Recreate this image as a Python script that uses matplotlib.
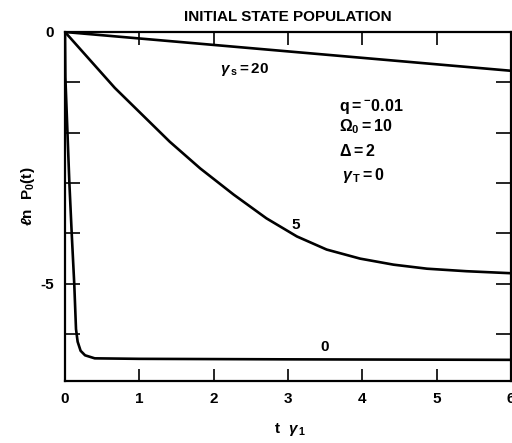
import matplotlib
matplotlib.use("Agg")
import matplotlib.pyplot as plt

plt.rcParams['font.family'] = ['Liberation Sans', 'DejaVu Sans']
plt.rcParams['mathtext.fontset'] = 'custom'
plt.rcParams['mathtext.rm'] = 'Liberation Sans:bold'
plt.rcParams['mathtext.it'] = 'Liberation Sans:italic:bold'
plt.rcParams['mathtext.bf'] = 'Liberation Sans:bold'

# gamma_s = 20
t20 = [0, 6]
y20 = [0, -0.77]

# gamma_s = 5
t5 = [0, 0.67, 1.41, 1.82, 2.27, 2.71, 3.12, 3.52, 3.97, 4.42, 4.87, 5.4, 6.0]
y5 = [0, -1.11, -2.18, -2.71, -3.23, -3.70, -4.06, -4.32, -4.50, -4.62, -4.70, -4.75, -4.79]

# gamma_s = 0
t0 = [0, 0.005, 0.058, 0.09, 0.125, 0.148, 0.17, 0.21, 0.27, 0.40, 1.0, 3.0, 6.0]
y0 = [0, -0.9, -2.97, -3.99, -5.02, -5.90, -6.15, -6.33, -6.42, -6.48, -6.49, -6.50, -6.51]

xticks = [0, 1, 2, 3, 4, 5, 6]
yticks = [0, -1, -2, -3, -4, -5, -6]
ytick_labels = ['0', '', '', '', '', '-5', '']

fig = plt.figure(figsize=(5.12, 4.43), dpi=100)
ax = fig.add_axes([65/512, 62/443, 446/512, 349/443])

lw = 1.9
ax.plot(t20, y20, color='black', lw=lw, solid_capstyle='butt')
ax.plot(t5, y5, color='black', lw=lw, solid_joinstyle='round')
ax.plot(t0, y0, color='black', lw=lw, solid_joinstyle='round')

ax.set_xlim(0, 6)
ax.set_ylim(-6.93, 0)
ax.set_xticks(xticks)
ax.set_xticklabels([str(v) for v in xticks], fontsize=11, fontweight='bold')
ax.set_yticks(yticks)
ax.set_yticklabels(ytick_labels, fontsize=11, fontweight='bold')
ax.tick_params(direction='in', length=9, width=1.2, top=True, right=True, pad=8)
ax.tick_params(axis='y', length=11)
for s in ax.spines.values():
    s.set_linewidth(1.6)

ax.set_title('INITIAL STATE POPULATION', fontsize=11, fontweight='bold', pad=8)
xl = ax.set_xlabel(r'$\mathrm{t}\ \ \gamma_{\,1}$', fontsize=11)
xl.set_va('center')
ax.xaxis.set_label_coords((290 - 65) / 446, -(429 - 381) / 349)
yl = ax.set_ylabel(r'$\ell\mathrm{n}\ \ \mathrm{P}_0\mathrm{(t)}$', fontsize=11)
yl.set_va('center')
ax.yaxis.set_label_coords(-(65 - 28) / 446, (381 - 196) / 349)

ax.text(2.42, -0.75, r'$\gamma_{\,\mathrm{s}}=\mathrm{20}$', fontsize=11, ha='center', va='center')
ax.text(3.11, -3.83, '5', fontsize=11, fontweight='bold', ha='center', va='center')
ax.text(3.49, -6.25, '0', fontsize=11, fontweight='bold', ha='center', va='center')

ax.text(3.68, -1.47, r'$\mathrm{q} = {}^{-}\mathrm{0.01}$', fontsize=11.5, ha='left', va='center')
ax.text(3.68, -1.88, r'$\Omega_0 = \mathrm{10}$', fontsize=11.5, ha='left', va='center')
ax.text(3.68, -2.36, r'$\Delta = \mathrm{2}$', fontsize=11.5, ha='left', va='center')
ax.text(3.72, -2.84, r'$\gamma_{\,\mathrm{T}} = \mathrm{0}$', fontsize=11.5, ha='left', va='center')

fig.savefig('out.png', dpi=100)
